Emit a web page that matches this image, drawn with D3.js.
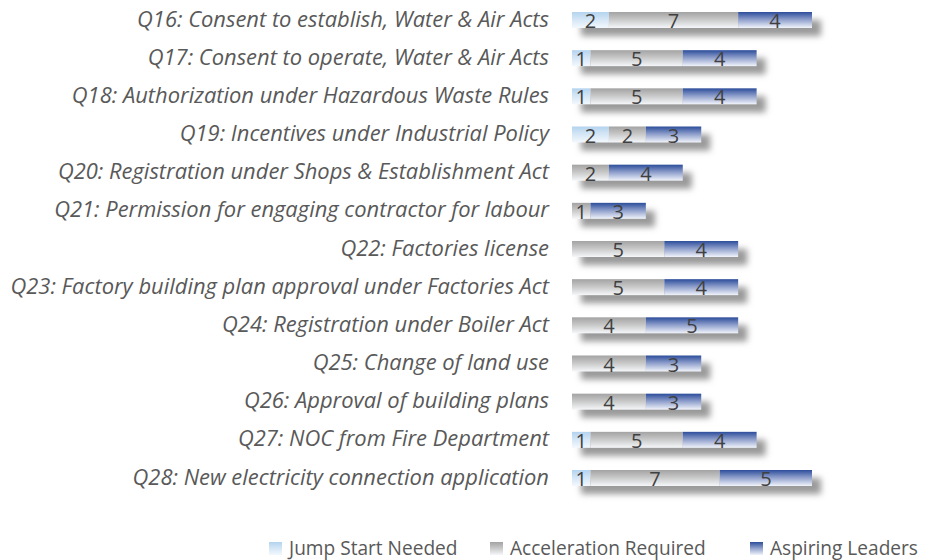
<!DOCTYPE html>
<html><head><meta charset="utf-8">
<script src="https://cdn.jsdelivr.net/npm/d3@7"></script>
<style>body{margin:0;background:#fff}svg{display:block}</style>
</head><body>
<svg id="c" width="947" height="560"></svg>
<script>
const categories = [
  "Q16: Consent to establish, Water & Air Acts",
  "Q17: Consent to operate, Water & Air Acts",
  "Q18: Authorization under Hazardous Waste Rules",
  "Q19: Incentives under Industrial Policy",
  "Q20: Registration under Shops & Establishment Act",
  "Q21: Permission for engaging contractor for labour",
  "Q22: Factories license",
  "Q23: Factory building plan approval under Factories Act",
  "Q24: Registration under Boiler Act",
  "Q25: Change of land use",
  "Q26: Approval of building plans",
  "Q27: NOC from Fire Department",
  "Q28: New electricity connection application"
];
const seriesNames = ["Jump Start Needed", "Acceleration Required", "Aspiring Leaders"];
const jumpStart    = [2,1,1,2,0,0,0,0,0,0,0,1,1];
const acceleration = [7,5,5,2,2,1,5,5,4,4,4,5,7];
const aspiring     = [4,4,4,3,4,3,4,4,5,3,3,4,5];

const FONT = "'Open Sans', 'DejaVu Sans', sans-serif";
const svg = d3.select("#c");
const defs = svg.append("defs");
const grads = [
  {id:"g0", top:"#b3d3ef", mid:"#d3e5f5", bot:"#f3f8fd"},
  {id:"g1", top:"#a3a3a3", mid:"#c6c6c6", bot:"#f5f7fa"},
  {id:"g2", top:"#2c4d9b", mid:"#8a9bc9", bot:"#f1f4fb"}
];
grads.forEach(g => {
  const lg = defs.append("linearGradient").attr("id", g.id).attr("x1",0).attr("y1",0).attr("x2",0).attr("y2",1);
  lg.append("stop").attr("offset","0%").attr("stop-color",g.top);
  lg.append("stop").attr("offset","45%").attr("stop-color",g.mid);
  lg.append("stop").attr("offset","100%").attr("stop-color",g.bot);
});
const f = defs.append("filter").attr("id","blur").attr("x","-20%").attr("y","-100%").attr("width","140%").attr("height","300%");
f.append("feGaussianBlur").attr("stdDeviation", 3);

const data = categories.map((c,i) => ({cat:c, vals:[jumpStart[i], acceleration[i], aspiring[i]]}));

const x = d3.scaleLinear().domain([0, 13]).range([572, 812]);
const y = d3.scalePoint().domain(categories).range([20, 478]);
const barH = 16;

// shadows
svg.append("g").selectAll("rect").data(data).join("rect")
  .attr("x", x(0) + 9)
  .attr("y", d => y(d.cat) - barH/2 + 8)
  .attr("width", d => x(d3.sum(d.vals)) - x(0))
  .attr("height", barH)
  .attr("fill", "#9a9a9a")
  .attr("filter", "url(#blur)");

// bars
const rows = svg.append("g").selectAll("g").data(data).join("g");
rows.each(function(d){
  let acc = 0;
  const g = d3.select(this);
  d.vals.forEach((v, k) => {
    if (v > 0) {
      g.append("rect")
        .attr("x", x(acc)).attr("y", y(d.cat) - barH/2)
        .attr("width", x(acc + v) - x(acc)).attr("height", barH)
        .attr("fill", `url(#g${k})`);
      g.append("text")
        .attr("x", (x(acc) + x(acc + v)) / 2).attr("y", y(d.cat) + 8)
        .attr("text-anchor", "middle")
        .attr("font-family", FONT)
        .attr("font-size", 20)
        .attr("fill", "#404040")
        .text(v);
    }
    acc += v;
  });
});

// category labels, sized so the longest matches the reference width
const labels = svg.append("g").selectAll("text").data(categories).join("text")
  .attr("x", 549).attr("y", d => y(d) + 6.5)
  .attr("text-anchor", "end")
  .attr("font-family", FONT)
  .attr("font-style", "italic")
  .attr("font-size", 16)
  .attr("fill", "#595959")
  .text(d => d);
const longest = labels.filter((d,i) => i === 7).node().getComputedTextLength();
labels.attr("font-size", 16 * 539 / longest);

// legend
const legTextX = [289, 510, 770];
const lg = svg.append("g").selectAll("g").data(seriesNames).join("g")
  .attr("transform", (d,i) => `translate(${legTextX[i] - 20},542)`);
lg.append("rect").attr("width", 13).attr("height", 13).attr("fill", (d,i) => `url(#g${i})`);
const lt = lg.append("text").attr("x", 20).attr("y", 12.5)
  .attr("font-family", FONT)
  .attr("font-size", 16)
  .attr("fill", "#595959")
  .text(d => d);
const aw = lt.filter((d,i) => i === 2).node().getComputedTextLength();
lt.attr("font-size", 16 * 148 / aw);
</script>
</body></html>
